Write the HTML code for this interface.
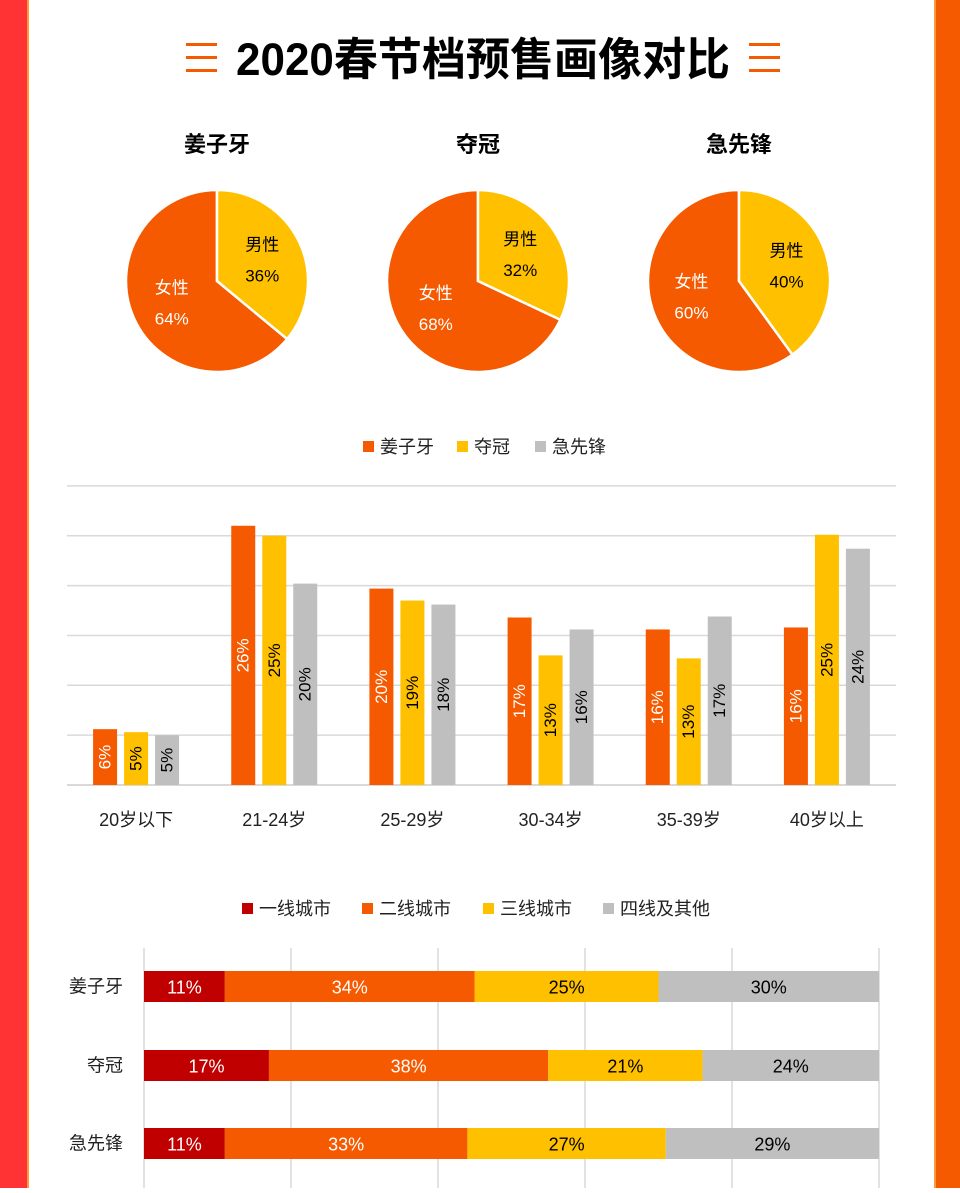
<!DOCTYPE html>
<html><head><meta charset="utf-8">
<style>
html,body{margin:0;padding:0;background:#fff;}
body{width:960px;height:1188px;overflow:hidden;position:relative;font-family:"Liberation Sans","Noto Sans CJK SC",sans-serif;}
svg text{font-family:"Liberation Sans","Noto Sans CJK SC",sans-serif;}
</style></head>
<body>
<svg id="chart" width="960" height="1188" viewBox="0 0 960 1188" xmlns="http://www.w3.org/2000/svg">
  <rect x="0" y="0" width="27" height="1188" fill="#ff3333"/>
  <rect x="27" y="0" width="2" height="1188" fill="#ff9a3c"/>
  <rect x="935" y="0" width="25" height="1188" fill="#f55a00"/>
  <rect x="934" y="0" width="2" height="1188" fill="#ff9a3c"/>
  <g fill="#f55a00">
    <rect x="186" y="43" width="31" height="3"/><rect x="186" y="56" width="31" height="3"/><rect x="186" y="69" width="31" height="3"/>
  </g>
  <g fill="#f55a00">
    <rect x="749" y="43" width="31" height="3"/><rect x="749" y="56" width="31" height="3"/><rect x="749" y="69" width="31" height="3"/>
  </g>
  <text x="483" y="75" text-anchor="middle" font-size="45" font-weight="bold" fill="#000" textLength="494" lengthAdjust="spacingAndGlyphs">2020春节档预售画像对比</text>
  <g id="pies"></g>
  <g id="bars"></g>
  <g id="stack"></g>
</svg>
<script>
const NS='http://www.w3.org/2000/svg';
function mk(tag,attrs,parent,txt){const e=document.createElementNS(NS,tag);for(const k in attrs)e.setAttribute(k,attrs[k]);if(txt!==undefined)e.textContent=txt;parent.appendChild(e);return e;}

// ---------- Pie data ----------
const movies=['姜子牙','夺冠','急先锋'];
const maleShare=[36,32,40];
const femaleShare=[64,68,60];

// ---------- Age bar data ----------
const ageCats=['20岁以下','21-24岁','25-29岁','30-34岁','35-39岁','40岁以上'];
const ageJiang=[5.6,26.0,19.7,16.8,15.6,15.8];
const ageDuo=[5.3,25.0,18.5,13.0,12.7,25.1];
const ageJi=[5.0,20.2,18.1,15.6,16.9,23.7];

// ---------- City tier data ----------
const tierNames=['一线城市','二线城市','三线城市','四线及其他'];
const tierJiang=[11,34,25,30];
const tierDuo=[17,38,21,24];
const tierJi=[11,33,27,29];

const ORANGE='#f55a00',YELLOW='#ffc000',GRAY='#bfbfbf',RED='#c00000';

// ---------- Pies ----------
(function(){
  const g=document.getElementById('pies');
  const cx0=217,dx=261,cy=281,r=91;
  movies.forEach((m,i)=>{
    const cx=cx0+dx*i;
    const t=mk('text',{x:cx,y:152,'text-anchor':'middle','font-size':22,'font-weight':'bold',fill:'#000'},g,m);
    
    
    const tot=maleShare[i]+femaleShare[i];
    const a=maleShare[i]/tot*2*Math.PI;
    const pt=(ang,rr)=>[cx+Math.sin(ang)*rr,cy-Math.cos(ang)*rr];
    const [x1,y1]=pt(a,r);
    const female=mk('path',{d:`M${cx},${cy} L${x1},${y1} A${r},${r} 0 ${(2*Math.PI-a)>Math.PI?1:0} 1 ${cx},${cy-r} Z`,fill:ORANGE,stroke:'#fff','stroke-width':2.5},g);
    
    
    const male=mk('path',{d:`M${cx},${cy} L${cx},${cy-r} A${r},${r} 0 ${a>Math.PI?1:0} 1 ${x1},${y1} Z`,fill:YELLOW,stroke:'#fff','stroke-width':2.5},g);
    
    
    const [mx,my]=pt(a/2,50);
    const [fx,fy]=pt(a+(2*Math.PI-a)/2,50);
    const l1=mk('text',{x:mx,y:my-9,'text-anchor':'middle','font-size':17,fill:'#000'},g,'男性');
    
    
    const l2=mk('text',{x:mx,y:my+22,'text-anchor':'middle','font-size':17,fill:'#000'},g,maleShare[i]+'%');
    
    
    const l3=mk('text',{x:fx,y:fy-9,'text-anchor':'middle','font-size':17,fill:'#fff'},g,'女性');
    
    
    const l4=mk('text',{x:fx,y:fy+22,'text-anchor':'middle','font-size':17,fill:'#fff'},g,femaleShare[i]+'%');
    
    
  });
})();

// ---------- Age bars ----------
(function(){
  const g=document.getElementById('bars');
  const x0=67,x1=896,base=785,pxPer=9.97;
  const yS=v=>base-v*pxPer;
  // legend
  const leg=[['姜子牙',ORANGE,363],['夺冠',YELLOW,457],['急先锋',GRAY,535]];
  leg.forEach((l,i)=>{
    const r=mk('rect',{x:l[2],y:441,width:11,height:11,fill:l[1]},g);
    
    
    const t=mk('text',{x:l[2]+17,y:453,'font-size':18,fill:'#222'},g,l[0]);
    
    
  });
  for(let k=0;k<=6;k++){
    const y=yS(k*5);
    const ln=mk('line',{x1:x0,x2:x1,y1:y,y2:y,stroke:'#d9d9d9','stroke-width':k===0?2:1.5},g);
    
    
  }
  const gw=(x1-x0)/ageCats.length,bw=24,gap=7;
  const series=[[ageJiang,ORANGE,'#fff'],[ageDuo,YELLOW,'#000'],[ageJi,GRAY,'#000']];
  ageCats.forEach((c,i)=>{
    const cx=x0+gw*(i+0.5);
    const t=mk('text',{x:cx,y:826,'text-anchor':'middle','font-size':18,fill:'#222'},g,c);
    
    
    series.forEach((s,j)=>{
      const v=s[0][i];
      const bx=cx-bw*1.5-gap+j*(bw+gap);
      const b=mk('rect',{x:bx,y:yS(v),width:bw,height:base-yS(v),fill:s[1]},g);
      
      
      const my=(yS(v)+base)/2,mx=bx+bw/2;
      const lt=mk('text',{x:mx,y:my,'text-anchor':'middle','dominant-baseline':'central','font-size':17,fill:s[2],transform:`rotate(-90 ${mx} ${my})`},g,Math.round(v)+'%');
      
      
    });
  });
})();

// ---------- City tier stacked bars ----------
(function(){
  const g=document.getElementById('stack');
  const x0=144,x1=879,top=948,bottom=1188;
  const xS=v=>x0+v/100*(x1-x0);
  const colors=[RED,ORANGE,YELLOW,GRAY],tcol=['#fff','#fff','#000','#000'];
  const legX=[242,362,483,603];
  tierNames.forEach((n,i)=>{
    const r=mk('rect',{x:legX[i],y:903,width:11,height:11,fill:colors[i]},g);
    
    
    const t=mk('text',{x:legX[i]+17,y:915,'font-size':18,fill:'#222'},g,n);
    
    
  });
  for(let k=0;k<=5;k++){
    const x=xS(k*20);
    const ln=mk('line',{x1:x,x2:x,y1:top,y2:bottom,stroke:'#d9d9d9','stroke-width':1.5},g);
    
    
  }
  const rows=[tierJiang,tierDuo,tierJi];
  const rowY=[971,1050,1128],bh=31;
  rows.forEach((vals,i)=>{
    const lbl=mk('text',{x:123,y:rowY[i]+bh/2,'text-anchor':'end','dominant-baseline':'central','font-size':18,fill:'#222'},g,movies[i]);
    
    
    let acc=0;
    vals.forEach((v,j)=>{
      const xa=xS(acc),xb=xS(acc+v);
      const r=mk('rect',{x:xa,y:rowY[i],width:xb-xa,height:bh,fill:colors[j]},g);
      
      
      const t=mk('text',{x:(xa+xb)/2,y:rowY[i]+bh/2+1,'text-anchor':'middle','dominant-baseline':'central','font-size':18,fill:tcol[j]},g,v+'%');
      
      
      acc+=v;
    });
  });
})();
</script>
</body></html>
